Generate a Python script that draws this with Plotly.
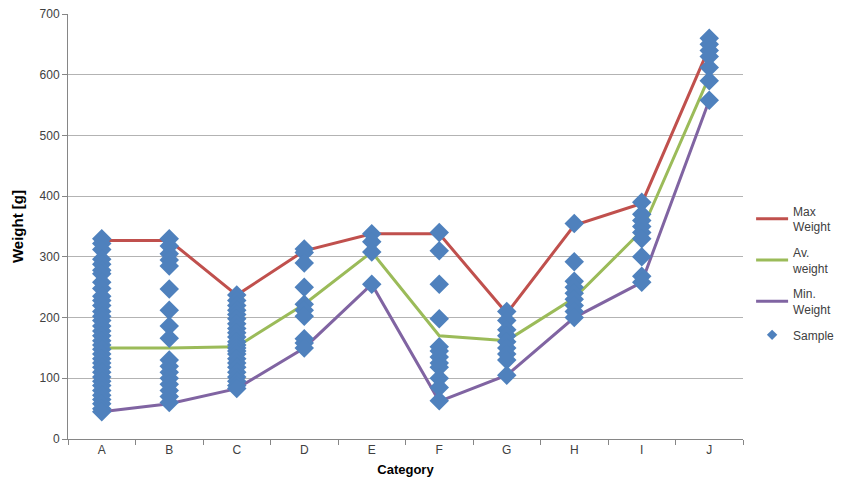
import plotly.graph_objects as go

categories = ["A", "B", "C", "D", "E", "F", "G", "H", "I", "J"]
max_weight = [327, 327, 237, 310, 338, 338, 207, 352, 388, 645]
av_weight = [150, 150, 152, 222, 308, 170, 162, 232, 343, 597]
min_weight = [45, 58, 83, 150, 255, 62, 105, 200, 258, 558]

samples = {
    "A": [330, 322, 312, 296, 288, 278, 272, 258, 248, 235, 228, 220, 210, 202, 195, 186,
          178, 170, 162, 155, 148, 140, 132, 125, 118, 110, 102, 95, 88, 80, 72, 65, 58, 50, 45],
    "B": [330, 318, 305, 295, 285, 247, 212, 186, 166, 130, 120, 110, 100, 90, 80, 70, 60],
    "C": [237, 228, 220, 212, 205, 198, 190, 182, 175, 168, 160, 155, 150, 145, 140, 132,
          125, 118, 110, 102, 95, 88, 83],
    "D": [313, 307, 290, 250, 222, 212, 202, 165, 158, 150],
    "E": [338, 325, 308, 255],
    "F": [340, 310, 255, 198, 152, 145, 135, 125, 118, 100, 85, 63],
    "G": [210, 195, 180, 170, 160, 150, 140, 130, 105],
    "H": [355, 292, 260, 250, 240, 230, 220, 210, 200],
    "I": [390, 370, 360, 350, 340, 330, 300, 268, 258],
    "J": [660, 650, 640, 630, 612, 590, 558],
}

sx, sy = [], []
for c in categories:
    for v in samples[c]:
        sx.append(c)
        sy.append(v)

FONT = "Liberation Sans"
TXT = "#404040"
BLUE = "#4F81BD"

fig = go.Figure()
fig.add_trace(go.Scatter(x=categories, y=max_weight, mode="lines", name="Max<br>Weight",
                         legendgroup="g1", line=dict(color="#C0504D", width=3)))
fig.add_trace(go.Scatter(x=categories, y=av_weight, mode="lines", name="Av.<br>weight",
                         legendgroup="g2", line=dict(color="#9BBB59", width=3)))
fig.add_trace(go.Scatter(x=categories, y=min_weight, mode="lines", name="Min.<br>Weight",
                         legendgroup="g3", line=dict(color="#8064A2", width=3)))
fig.add_trace(go.Scatter(x=sx, y=sy, mode="markers", name="Sample", showlegend=False,
                         legendgroup="g4",
                         marker=dict(symbol="diamond", size=15, color=BLUE)))
# legend entry with a small diamond, as in the reference
fig.add_trace(go.Scatter(x=[None], y=[None], mode="markers", name="Sample",
                         legendgroup="g4",
                         marker=dict(symbol="diamond", size=8, color=BLUE)))

fig.update_layout(
    width=844, height=492,
    margin=dict(l=68, r=101, t=14, b=53, autoexpand=False),
    paper_bgcolor="white", plot_bgcolor="white",
    font=dict(family=FONT, size=12, color=TXT),
    legend=dict(x=1.012, xanchor="left", y=0.39, yanchor="middle",
                font=dict(size=12, color=TXT), bgcolor="rgba(0,0,0,0)",
                tracegroupgap=7, itemwidth=32),
    showlegend=True,
)
fig.update_xaxes(
    type="category", categoryorder="array", categoryarray=categories,
    range=[-0.5, 9.5], showgrid=False, showline=True, linecolor="#868686", linewidth=1,
    ticks="outside", tickson="boundaries", ticklen=5, tickcolor="#868686",
    tickfont=dict(size=12, color=TXT),
    title=dict(text="<b>Category</b>", font=dict(size=13, color="black"), standoff=8),
)
fig.update_yaxes(
    range=[0, 700], dtick=100, showgrid=True, gridcolor="#B3B3B3", gridwidth=1,
    showline=True, linecolor="#868686", linewidth=1, zeroline=False,
    ticks="outside", ticklen=5, tickcolor="#868686",
    tickfont=dict(size=12, color=TXT),
    title=dict(text="<b>Weight [g]</b>", font=dict(size=15, color="black"), standoff=12),
)

fig.write_html("out.html")
